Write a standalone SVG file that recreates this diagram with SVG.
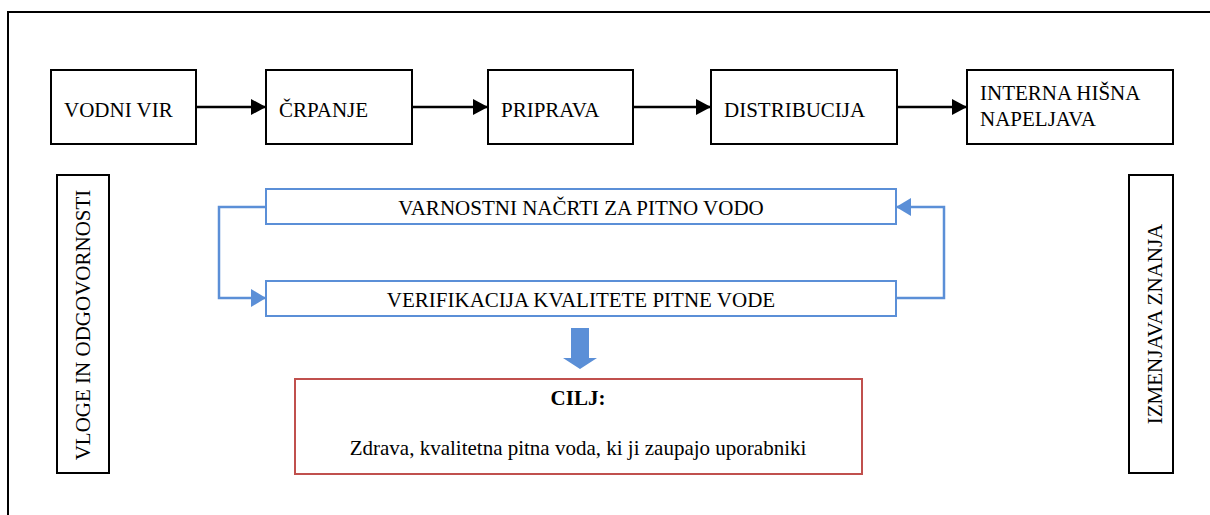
<svg xmlns="http://www.w3.org/2000/svg" width="1210" height="515" viewBox="0 0 1210 515">
<style>
  text { font-family: 'Liberation Serif', 'Times New Roman', serif; font-size: 21px; fill: #000; }
  .box { fill: #fff; stroke: #000; stroke-width: 2; }
  .bbox { fill: #fff; stroke: #5B8FD7; stroke-width: 2; }
  .rbox { fill: #fff; stroke: #C0504D; stroke-width: 2; }
  .conn { fill: none; stroke: #000; stroke-width: 2.5; }
  .bconn { fill: none; stroke: #5B8FD7; stroke-width: 2.5; }
</style>
<defs>
  <marker id="ah" markerWidth="15" markerHeight="16" refX="15" refY="8" orient="auto" markerUnits="userSpaceOnUse">
    <path d="M0,0 L15,8 L0,16 Z" fill="#000"/>
  </marker>
  <marker id="bh" markerWidth="15" markerHeight="18" refX="15" refY="9" orient="auto" markerUnits="userSpaceOnUse">
    <path d="M0,0 L15,9 L0,18 Z" fill="#5B8FD7"/>
  </marker>
</defs>
<rect x="0" y="0" width="1210" height="515" fill="#fff"/>
<path d="M8,530 L8,12 L1220,12" fill="none" stroke="#000" stroke-width="2"/>

<g id="connectors">
  <line class="conn" x1="196" y1="107" x2="266" y2="107" marker-end="url(#ah)"/>
  <line class="conn" x1="412" y1="107" x2="488" y2="107" marker-end="url(#ah)"/>
  <line class="conn" x1="633" y1="107" x2="711" y2="107" marker-end="url(#ah)"/>
  <line class="conn" x1="897" y1="107" x2="967" y2="107" marker-end="url(#ah)"/>
  <path class="bconn" d="M266,207 L219,207 L219,298 L266,298" marker-end="url(#bh)"/>
  <path class="bconn" d="M896,298 L944,298 L944,207 L896,207" marker-end="url(#bh)"/>
  <path d="M571,328 L589,328 L589,358 L597,358 L580,369 L563,358 L571,358 Z" fill="#5B8FD7"/>
</g>

<g id="vodni-vir">
  <rect class="box" x="51" y="70" width="145" height="74"/>
  <text x="64" y="117">VODNI VIR</text>
</g>
<g id="crpanje">
  <rect class="box" x="266" y="70" width="146" height="74"/>
  <text x="279" y="117">ČRPANJE</text>
</g>
<g id="priprava">
  <rect class="box" x="488" y="70" width="145" height="74"/>
  <text x="501" y="117">PRIPRAVA</text>
</g>
<g id="distribucija">
  <rect class="box" x="711" y="70" width="186" height="74"/>
  <text x="724" y="117">DISTRIBUCIJA</text>
</g>
<g id="interna">
  <rect class="box" x="967" y="70" width="206" height="74"/>
  <text x="980" y="100">INTERNA HIŠNA</text>
  <text x="980" y="126">NAPELJAVA</text>
</g>

<g id="vloge">
  <rect class="box" x="57" y="175" width="52" height="298"/>
  <text transform="translate(90,325) rotate(-90)" text-anchor="middle">VLOGE IN ODGOVORNOSTI</text>
</g>
<g id="izmenjava">
  <rect class="box" x="1129" y="175" width="44" height="298"/>
  <text transform="translate(1162,324) rotate(-90)" text-anchor="middle">IZMENJAVA ZNANJA</text>
</g>

<g id="varnostni">
  <rect class="bbox" x="266" y="189" width="630" height="35"/>
  <text x="581" y="215" text-anchor="middle">VARNOSTNI NAČRTI ZA PITNO VODO</text>
</g>
<g id="verifikacija">
  <rect class="bbox" x="266" y="281" width="630" height="35"/>
  <text x="581" y="307" text-anchor="middle">VERIFIKACIJA KVALITETE PITNE VODE</text>
</g>

<g id="cilj">
  <rect class="rbox" x="295" y="379" width="567" height="95"/>
  <text x="578" y="405" text-anchor="middle" font-weight="bold">CILJ:</text>
  <text x="578" y="455" text-anchor="middle">Zdrava, kvalitetna pitna voda, ki ji zaupajo uporabniki</text>
</g>
</svg>
